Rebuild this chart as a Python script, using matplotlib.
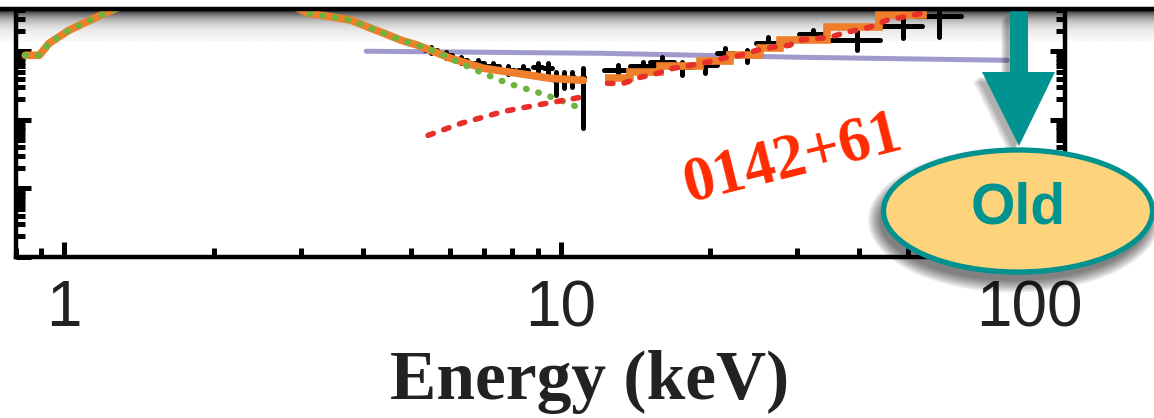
import numpy as np
import matplotlib
matplotlib.use('Agg')
import matplotlib.pyplot as plt
from matplotlib.patches import Ellipse, Polygon
from matplotlib.ticker import NullFormatter
import matplotlib.transforms as mtransforms

# Model curves (energy in keV, flux in arbitrary units)
total_soft_e = [0.835, 0.891, 0.933, 1.023, 1.112, 1.209, 1.45, 1.9, 2.4, 2.85, 3.10, 3.50,
                3.79, 4.10, 4.41, 4.77, 5.16, 6.01, 7.00, 8.20, 9.55, 11.12]
total_soft_f = [0.0874, 0.0874, 0.1309, 0.2025, 0.27, 0.359, 0.62, 0.85, 0.75, 0.48, 0.359, 0.313,
                0.283, 0.224, 0.183, 0.145, 0.1224, 0.0790, 0.0565, 0.0477, 0.0403, 0.0377]

# total model above 12 keV is a binned (step) curve
total_hard_edges = [12.30, 13.83, 15.88, 19.11, 21.95, 25.2, 27.7, 34.4, 43.9, 53.6, 60.0]
total_hard_f = [0.0403, 0.0494, 0.0604, 0.0714, 0.0874, 0.1106, 0.1447, 0.224, 0.335, 0.5]

thermal_e = [0.835, 0.891, 0.933, 1.023, 1.112, 1.209, 1.45, 1.9, 2.4, 2.85, 3.10, 3.50, 3.79,
             4.10, 4.41, 4.77, 5.16, 5.6, 6.10, 6.91, 7.83, 8.58, 9.12, 10.0, 11.12]
thermal_f = [0.0874, 0.0874, 0.1309, 0.2025, 0.27, 0.359, 0.62, 0.85, 0.75, 0.48, 0.359, 0.313, 0.283,
             0.224, 0.183, 0.145, 0.1224, 0.100, 0.0739, 0.0494, 0.0341, 0.0279, 0.0244, 0.0193, 0.0142]

pl_soft_e = [5.41, 6.30, 7.69, 9.12, 10.97]
pl_soft_f = [0.00594, 0.00889, 0.0133, 0.0168, 0.0213]
pl_hard_e = [12.43, 13.38, 14.47, 15.66, 16.86, 18.24, 19.73, 21.25, 22.98, 24.86, 26.78, 28.96,
             29.92, 34.85, 37.70, 41.93, 45.36, 51.16, 53.58]
pl_hard_f = [0.0341, 0.0341, 0.0417, 0.0477, 0.0565, 0.0625, 0.0691, 0.0790, 0.0874, 0.1034, 0.1144,
             0.1224, 0.1447, 0.160, 0.1894, 0.224, 0.283, 0.335, 0.359]

old_e = [4.06, 12.03, 30.3, 79.4]
old_f = [0.1002, 0.0935, 0.0818, 0.0739]

# data points (soft and hard X-rays)
soft_e = [5.48, 5.88, 6.30, 6.81, 7.30, 7.83, 8.39, 8.99, 9.42, 9.77, 10.14, 10.57, 11.12]
soft_de = [0.15, 0.16, 0.17, 0.19, 0.20, 0.21, 0.19, 0.17, 0.17, 0.08, 0.08, 0.08, 0.05]
soft_f = [0.1034, 0.0874, 0.0739, 0.0668, 0.0604, 0.0528, 0.0528, 0.0584, 0.0565, 0.0377, 0.0403, 0.0417, 0.0417]
soft_lo = [0.0935, 0.0790, 0.0668, 0.0604, 0.0528, 0.0462, 0.0462, 0.0494, 0.0462, 0.0228, 0.0288, 0.0298, 0.00752]
soft_hi = [0.1144, 0.0967, 0.0818, 0.0739, 0.0668, 0.0604, 0.0604, 0.0668, 0.0668, 0.0494, 0.0494, 0.0494, 0.0565]

hard_e = [13.08, 14.68, 16.03, 17.58, 19.55, 21.45, 23.74, 26.16, 32.21, 39.48, 48.85, 57.94]
hard_de = [0.85, 0.85, 0.9, 0.8, 1.1, 0.8, 1.1, 1.4, 2.0, 4.5, 4.5, 6.0]
hard_f = [0.0528, 0.0604, 0.0691, 0.0584, 0.0625, 0.0935, 0.0874, 0.1309, 0.1771, 0.1447, 0.2317, 0.3243]
hard_lo = [0.0446, 0.0494, 0.0584, 0.0446, 0.0477, 0.0739, 0.0691, 0.1106, 0.1548, 0.1034, 0.1548, 0.160]
hard_hi = [0.0625, 0.0691, 0.0818, 0.0691, 0.0739, 0.1106, 0.1034, 0.160, 0.2025, 0.2025, 0.335, 0.45]

xtick_vals = [1, 10, 100]
xtick_labels = ['1', '10', '100']

W, H = 1154, 418
fig = plt.figure(figsize=(W / 100, H / 100), dpi=100)

# shaded band under the black top line (slide decoration)
bg = fig.add_axes([0, 0, 1, 1], zorder=0)
grad = 1 - 0.78 * np.exp(-np.linspace(0, 30, 60) / 9.0)
bg.imshow(grad[:, None], cmap='gray', vmin=0, vmax=1, aspect='auto', extent=(0, W, 41, 11))
bg.set_xlim(0, W)
bg.set_ylim(H, 0)
bg.axis('off')

# main spectrum axes
ax = fig.add_axes([16 / W, (H - 257) / H, 1049 / W, 247 / H], zorder=1)
ax.patch.set_alpha(0)
ax.set_xscale('log')
ax.set_yscale('log')
ax.set_xlim(0.80, 103.8)
ax.set_ylim(1e-4, 0.4)

ax.plot(old_e, old_f, color='#9e9acb', lw=3.6, solid_capstyle='round', zorder=1)

eb_kw = dict(fmt='none', ecolor='black', elinewidth=3.6, capsize=0, zorder=2)
e1 = ax.errorbar(soft_e, soft_f, xerr=soft_de,
                 yerr=[np.subtract(soft_f, soft_lo), np.subtract(soft_hi, soft_f)], **eb_kw)
e2 = ax.errorbar(hard_e, hard_f, xerr=hard_de,
                 yerr=[np.subtract(hard_f, hard_lo), np.subtract(hard_hi, hard_f)], **eb_kw)
for e in (e1, e2):
    for c in e[2]:
        c.set_capstyle('round')

ax.plot(total_soft_e, total_soft_f, color='#f07f2c', lw=5.5, solid_capstyle='round', zorder=3)
ax.stairs(total_hard_f, total_hard_edges, color='#f07f2c', lw=5.5, baseline=None, zorder=3)

ax.plot(thermal_e, thermal_f, color='#6bb53e', lw=4.6, ls=(0, (0.1, 1.9)),
        dash_capstyle='round', zorder=4)
ax.plot(pl_soft_e, pl_soft_f, color='#e8302a', lw=4.0, ls=(0, (1.0, 2.0)),
        dash_capstyle='round', zorder=4)
ax.plot(pl_hard_e, pl_hard_f, color='#e8302a', lw=4.0, ls=(0, (1.0, 2.0)),
        dash_capstyle='round', zorder=4)

for s in ['left', 'bottom', 'right']:
    ax.spines[s].set_linewidth(3.2)
ax.spines['top'].set_visible(False)
ax.tick_params(which='major', direction='in', length=11, width=3.6, top=False, right=True)
ax.tick_params(which='minor', direction='in', length=6.5, width=3.6, top=False, right=True)
ax.set_xticks(xtick_vals)
ax.set_xticklabels(xtick_labels, fontsize=46, family='Liberation Sans', color='#222222')
ax.tick_params(axis='x', which='major', pad=16)
ax.xaxis.set_minor_formatter(NullFormatter())
ax.yaxis.set_major_formatter(NullFormatter())
ax.yaxis.set_minor_formatter(NullFormatter())
# last label sits a bit left of its tick in the original
lab = ax.get_xticklabels()[-1]
lab.set_transform(lab.get_transform() + mtransforms.ScaledTranslation(-0.28, 0, fig.dpi_scale_trans))

ax.set_xlabel('Energy (keV)', fontsize=50, fontweight='bold', family='Liberation Serif', color='#222222')
ax.xaxis.set_label_coords((590 - 16) / 1049, (257 - 350) / 247)

# overlay annotations in pixel coordinates
ov = fig.add_axes([0, 0, 1, 1], zorder=2)
ov.set_xlim(0, W)
ov.set_ylim(H, 0)
ov.axis('off')

ov.text(793, 160, '0142+61', rotation=14, color='#ff2a00', fontsize=45, fontweight='bold',
        family='Liberation Serif', ha='center', va='center')

arrow = [(1010, 10), (1028, 10), (1028, 72), (1055, 72), (1019, 146), (982, 72), (1010, 72)]
for i in range(6):
    ov.add_patch(Polygon([(x - 4 - i, y + 5 + i) for x, y in arrow], closed=True,
                         facecolor='black', edgecolor='none', alpha=0.06))
ov.add_patch(Polygon(arrow, closed=True, facecolor='#00938f', edgecolor='none'))

for i in range(9):
    ov.add_patch(Ellipse((1014, 220), 268 + 3 * i, 121 + 3 * i, facecolor='black',
                         edgecolor='none', alpha=0.07))
ov.add_patch(Ellipse((1018, 211), 269, 122, facecolor='#fdd47b', edgecolor='#00928e', lw=3.8))
ov.text(1018, 208, 'Old', color='#00938f', fontsize=41, fontweight='bold',
        family='Liberation Sans', ha='center', va='center')

ov.plot([0, W], [9, 9], color='black', lw=3.2, solid_capstyle='butt')

fig.savefig('out.png', dpi=100)
